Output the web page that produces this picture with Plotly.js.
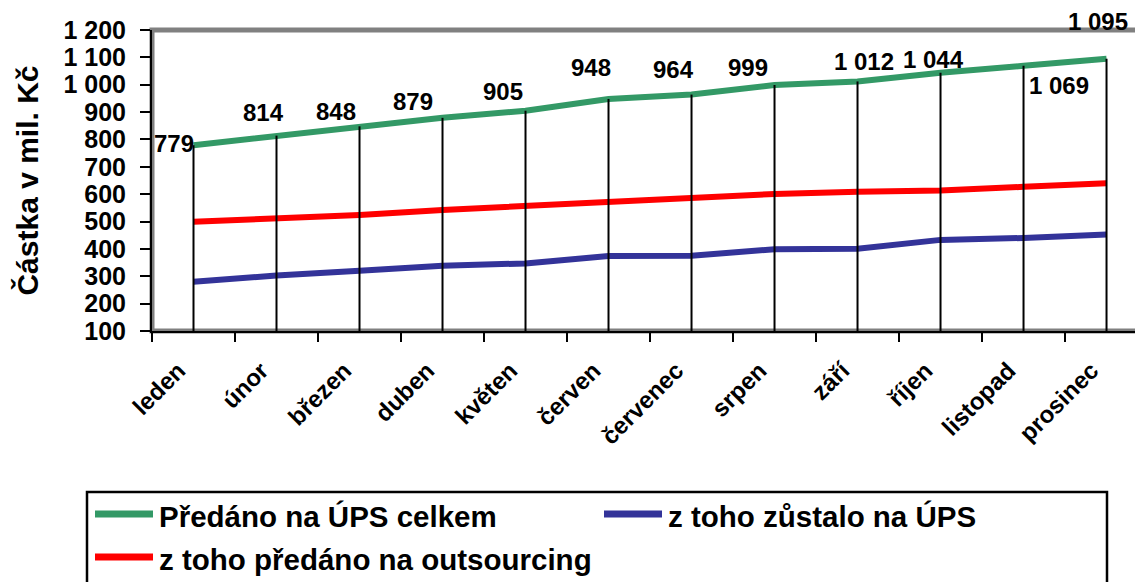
<!DOCTYPE html>
<html>
<head>
<meta charset="utf-8">
<script src="https://cdn.plot.ly/plotly-3.0.1.min.js"></script>
<style>html,body{margin:0;padding:0;background:#fff;}#chart{width:1135px;height:582px;}</style>
</head>
<body>
<div id="chart"></div>
<script>
const months = ["leden","únor","březen","duben","květen","červen","červenec","srpen","září","říjen","listopad","prosinec"];
const totalHanded = [779, 814, 848, 879, 905, 948, 964, 999, 1012, 1044, 1069, 1095];
const outsourced = [499, 509, 524, 542, 558, 574, 587, 601, 609, 613, 627, 640];
const remained = [280, 303, 320, 338, 347, 374, 375, 399, 401, 433, 440, 453];
const seriesNames = ["Předáno na ÚPS celkem", "z toho zůstalo na ÚPS", "z toho předáno na outsourcing"];
const seriesColors = ["#339966", "#333399", "#FF0000"];
const yTitle = "Částka v mil. Kč";
// label offsets (pixels) for the value labels of the total series
const labelDx = [-20, -13, -24, -30, -23, -18, -18, -27, 6, -7, 35, -9];
const labelDy = [2, 23, 15, 16, 19, 31, 25, 18, 20, 13, -20, 37];

const FONT = "Liberation Sans, Arial, sans-serif";
const yMin = 100, yMax = 1200;

function fmt(v){ return String(v).replace(/\B(?=(\d{3})+(?!\d))/g, "\u00a0"); }

// drop lines
const dx = [], dy = [];
months.forEach((m,i)=>{ dx.push(m, m, null); dy.push(totalHanded[i], yMin, null); });

const seriesData = [totalHanded, remained, outsourced];
const traces = seriesData.map((d,k)=>({
  x: months, y: d, name: seriesNames[k], mode: "lines",
  line: {color: seriesColors[k], width: 6}, showlegend: false
}));
traces.push({x: dx, y: dy, mode: "lines", line: {color: "#000000", width: 2}, showlegend: false, hoverinfo: "skip"});

const annotations = months.map((m,i)=>({
  x: m, y: totalHanded[i], xref: "x", yref: "y",
  text: fmt(totalHanded[i]), showarrow: false,
  xshift: labelDx[i], yshift: labelDy[i],
  font: {family: FONT, size: 24, color: "#000", weight: "bold"}
}));

// custom legend (plot area: left 152px, width 983px, bottom 331px, height 301px)
const px = v => (v - 152) / 983;
const py = v => (331 - v) / 301;
const legendPos = [ {x: 95, y: 514}, {x: 604, y: 514}, {x: 95, y: 557} ];
const shapes = [
  {type: "rect", xref: "paper", yref: "paper", x0: 0, x1: 1.02, y0: 0, y1: 1, line: {color: "#808080", width: 5}, layer: "below"},
  {type: "rect", xref: "paper", yref: "paper", x0: px(87), x1: px(1107), y0: py(600), y1: py(492), line: {color: "#000", width: 2.5}}
];
legendPos.forEach((p,k)=>{
  shapes.push({type: "line", xref: "paper", yref: "paper", x0: px(p.x), x1: px(p.x + 58), y0: py(p.y), y1: py(p.y), line: {color: seriesColors[k], width: 7}});
  annotations.push({xref: "paper", yref: "paper", x: px(p.x + 62), y: py(p.y + 2), xanchor: "left", yanchor: "middle",
    text: seriesNames[k], showarrow: false, font: {family: FONT, size: 29.5, color: "#000", weight: "bold"}});
});

const layout = {
  width: 1135, height: 582,
  margin: {l: 152, r: 0, t: 30, b: 251},
  paper_bgcolor: "#fff", plot_bgcolor: "#fff",
  separators: ", ",
  showlegend: false,
  font: {family: FONT, color: "#000"},
  xaxis: {
    type: "category", range: [-0.5, 11.343],
    tickson: "boundaries", ticks: "outside", ticklen: 9, tickwidth: 2, tickcolor: "#000",
    tickangle: -45, ticklabelstandoff: 14, ticklabelshift: -15, showgrid: false, zeroline: false,
    showline: true, linecolor: "#000", linewidth: 2,
    tickfont: {family: FONT, size: 24, color: "#000", weight: "bold"}
  },
  yaxis: {
    range: [yMin, yMax], dtick: 100, tick0: 100,
    ticks: "outside", ticklen: 10, tickwidth: 2, tickcolor: "#000",
    ticklabelstandoff: 9,
    separatethousands: true, showgrid: false, zeroline: false,
    showline: true, linecolor: "#000", linewidth: 2,
    tickfont: {family: FONT, size: 25, color: "#000", weight: "bold"},
    title: {text: yTitle, font: {family: FONT, size: 30, color: "#000", weight: "bold"}, standoff: 16}
  },
  shapes: shapes,
  annotations: annotations
};

Plotly.newPlot("chart", traces, layout, {displayModeBar: false, staticPlot: true});
</script>
</body>
</html>
